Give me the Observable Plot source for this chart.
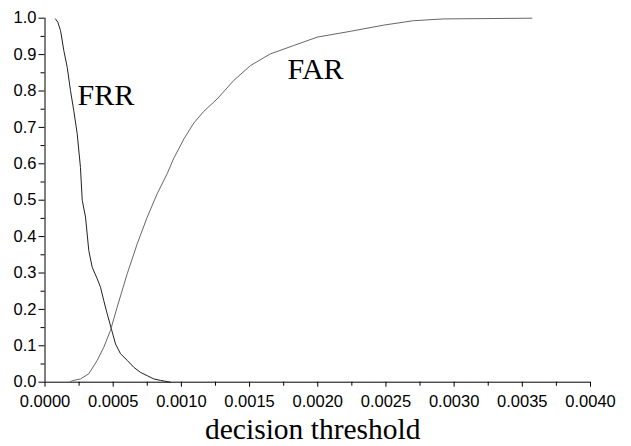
<!DOCTYPE html>
<html>
<head>
<meta charset="utf-8">
<script src="https://cdn.jsdelivr.net/npm/d3@7"></script>
<script src="https://cdn.jsdelivr.net/npm/@observablehq/plot@0.6"></script>
<style>
  html, body { margin: 0; padding: 0; background: #fff; }
</style>
</head>
<body>
<div id="chart"></div>
<script>
// FRR curve (false rejection rate) vs decision threshold
const frrX = [0.000077, 0.000094, 0.000114, 0.000138, 0.000163, 0.000187, 0.000211, 0.000236, 0.00026, 0.000273, 0.000297, 0.000321, 0.000346, 0.000383, 0.000407, 0.000431, 0.000456, 0.000493, 0.000517, 0.000554, 0.000603, 0.000651, 0.0007, 0.000749, 0.000798, 0.000847, 0.00092];
const frrY = [0.998, 0.989, 0.966, 0.911, 0.865, 0.801, 0.746, 0.683, 0.59, 0.5, 0.454, 0.362, 0.316, 0.284, 0.261, 0.224, 0.188, 0.138, 0.105, 0.078, 0.06, 0.041, 0.027, 0.018, 0.009, 0.005, 0.0];
// FAR curve (false acceptance rate)
const farX = [0.00018, 0.0002, 0.00026, 0.000321, 0.000383, 0.000431, 0.00048, 0.000529, 0.000603, 0.000676, 0.000749, 0.000823, 0.000896, 0.000944, 0.001018, 0.001091, 0.001164, 0.001262, 0.001384, 0.001507, 0.001653, 0.001824, 0.001996, 0.00224, 0.002484, 0.0027, 0.00292, 0.00357];
const farY = [0.0, 0.004, 0.009, 0.023, 0.06, 0.096, 0.142, 0.206, 0.298, 0.38, 0.453, 0.518, 0.573, 0.615, 0.668, 0.712, 0.744, 0.778, 0.829, 0.87, 0.902, 0.925, 0.948, 0.964, 0.981, 0.993, 0.998, 1.0];

const xMajor = [0, 0.0005, 0.001, 0.0015, 0.002, 0.0025, 0.003, 0.0035, 0.004];
const xMinor = [0.00025, 0.00075, 0.00125, 0.00175, 0.00225, 0.00275, 0.00325, 0.00375];
const yMajor = [0, 0.1, 0.2, 0.3, 0.4, 0.5, 0.6, 0.7, 0.8, 0.9, 1.0];
const yMinor = [0.05, 0.15, 0.25, 0.35, 0.45, 0.55, 0.65, 0.75, 0.85, 0.95];

const curveLabels = [
  {name: "FRR", x: 0.000238, y: 0.762},
  {name: "FAR", x: 0.001778, y: 0.834}
];
const xLabel = "decision threshold";

const frr = frrX.map((x, i) => ({x, y: frrY[i]}));
const far = farX.map((x, i) => ({x, y: farY[i]}));

const sans = "'Liberation Sans', Arial, sans-serif";
const serif = "'Liberation Serif', 'Times New Roman', serif";

const chart = Plot.plot({
  width: 631,
  height: 446,
  marginLeft: 44.5,
  marginRight: 41,
  marginTop: 17.7,
  marginBottom: 64.3,
  style: {fontFamily: sans, background: "#fff", color: "#000"},
  x: {domain: [0, 0.004]},
  y: {domain: [0, 1]},
  marks: [
    Plot.axisY({ticks: yMajor, tickFormat: d3.format(".1f"), tickSize: 6, tickPadding: 2.5, fontSize: 16.5, label: null, stroke: "#000"}),
    Plot.axisY({ticks: yMinor, tickSize: 4, text: null, label: null, stroke: "#000"}),
    Plot.axisX({ticks: xMajor, tickFormat: d3.format(".4f"), tickSize: 5, tickPadding: 8, fontSize: 16.5, label: null, stroke: "#000"}),
    Plot.axisX({ticks: xMinor, tickSize: 4, text: null, label: null, stroke: "#000"}),
    Plot.ruleX([0], {stroke: "#000"}),
    Plot.ruleY([0], {stroke: "#000"}),
    Plot.line(frr, {x: "x", y: "y", stroke: "#222", strokeWidth: 1}),
    Plot.line(far, {x: "x", y: "y", stroke: "#666", strokeWidth: 1}),
    Plot.text(curveLabels, {x: "x", y: "y", text: "name", textAnchor: "start", lineAnchor: "bottom", fontSize: 30, fontFamily: serif, fill: "#000"}),
    Plot.text([xLabel], {text: d => d, frameAnchor: "bottom", lineAnchor: "bottom", dx: -5, dy: 57, fontSize: 29.5, fontFamily: serif, fill: "#000"})
  ]
});
document.getElementById("chart").appendChild(chart);
</script>
</body>
</html>
